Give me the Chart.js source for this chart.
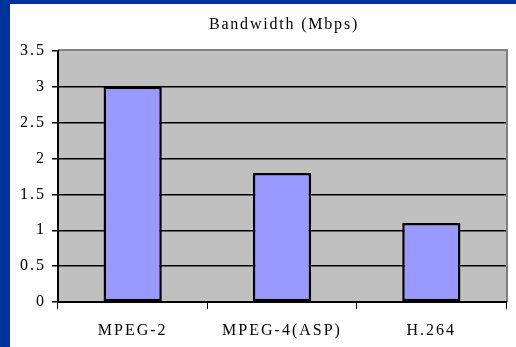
<!DOCTYPE html>
<html>
<head>
<meta charset="utf-8">
<script src="https://cdn.jsdelivr.net/npm/chart.js@4/dist/chart.umd.min.js"></script>
<style>
  html, body { margin: 0; padding: 0; background: #ffffff; overflow: hidden; }
  canvas { display: block; }
</style>
</head>
<body>
<canvas id="chart" width="516" height="347"></canvas>
<script>
// Codec bandwidth comparison
const titleText = 'Bandwidth (Mbps)';
const codecs = ['MPEG-2', 'MPEG-4(ASP)', 'H.264'];
const bandwidthMbps = [3.0, 1.8, 1.1];
const yTicks = [0, 0.5, 1, 1.5, 2, 2.5, 3, 3.5];

const SERIF = '"Liberation Serif", "Times New Roman", serif';
const SPACING = '2px';

// Slide frame, plot background, plot border and title
const framePlugin = {
  id: 'frame',
  beforeUpdate(chart) { chart.ctx.letterSpacing = SPACING; },
  beforeDraw(chart) {
    const { ctx, chartArea: a, width, height } = chart;
    ctx.save();
    ctx.fillStyle = '#ffffff';
    ctx.fillRect(0, 0, width, height);
    ctx.fillStyle = '#003399';
    ctx.fillRect(0, 0, width, 4);
    ctx.fillRect(0, 0, 10, height);
    // plot area
    ctx.fillStyle = '#c0c0c0';
    ctx.fillRect(a.left, a.top, a.right - a.left, a.bottom - a.top);
    ctx.strokeStyle = '#808080';
    ctx.lineWidth = 2;
    ctx.beginPath();
    ctx.moveTo(a.left, a.top - 1);
    ctx.lineTo(a.right + 1, a.top - 1);
    ctx.lineTo(a.right + 1, a.bottom);
    ctx.stroke();
    // title
    ctx.fillStyle = '#000000';
    ctx.font = '16px ' + SERIF;
    ctx.letterSpacing = '1.8px';
    ctx.textAlign = 'center';
    ctx.textBaseline = 'middle';
    ctx.fillText(titleText, (a.left + a.right) / 2 + 2, 25);
    ctx.restore();
    ctx.letterSpacing = SPACING;
  }
};

new Chart(document.getElementById('chart'), {
  type: 'bar',
  data: {
    labels: codecs,
    datasets: [{
      data: bandwidthMbps,
      backgroundColor: '#9999ff',
      borderColor: '#000000',
      borderWidth: 2.5,
      borderSkipped: false,
      barPercentage: 0.39,
      categoryPercentage: 1
    }]
  },
  options: {
    responsive: false,
    animation: false,
    devicePixelRatio: 1,
    layout: { padding: { top: 51, right: 10, left: 0, bottom: 0 } },
    plugins: {
      legend: { display: false },
      title: { display: false },
      tooltip: { enabled: false }
    },
    scales: {
      x: {
        offset: true,
        afterFit(scale) { scale.height = 45; },
        grid: {
          offset: true,
          drawOnChartArea: false,
          drawTicks: true,
          tickLength: 7,
          tickColor: '#000000'
        },
        border: { color: '#000000', width: 2 },
        ticks: {
          color: '#000000',
          font: { family: SERIF, size: 16 },
          padding: 12,
          maxRotation: 0
        }
      },
      y: {
        min: 0,
        max: 3.5,
        afterFit(scale) { scale.width = 58; },
        afterBuildTicks(scale) { scale.ticks = yTicks.map(v => ({ value: v })); },
        grid: {
          color: ctx => (ctx.tick && ctx.tick.value === 3.5) ? 'rgba(0,0,0,0)' : '#000000',
          lineWidth: 1.5,
          tickLength: 6,
          tickColor: '#000000'
        },
        border: { color: '#000000', width: 2 },
        ticks: {
          color: '#000000',
          font: { family: SERIF, size: 16 },
          padding: 6,
          callback: v => String(v)
        }
      }
    }
  },
  plugins: [framePlugin]
});
</script>
</body>
</html>
